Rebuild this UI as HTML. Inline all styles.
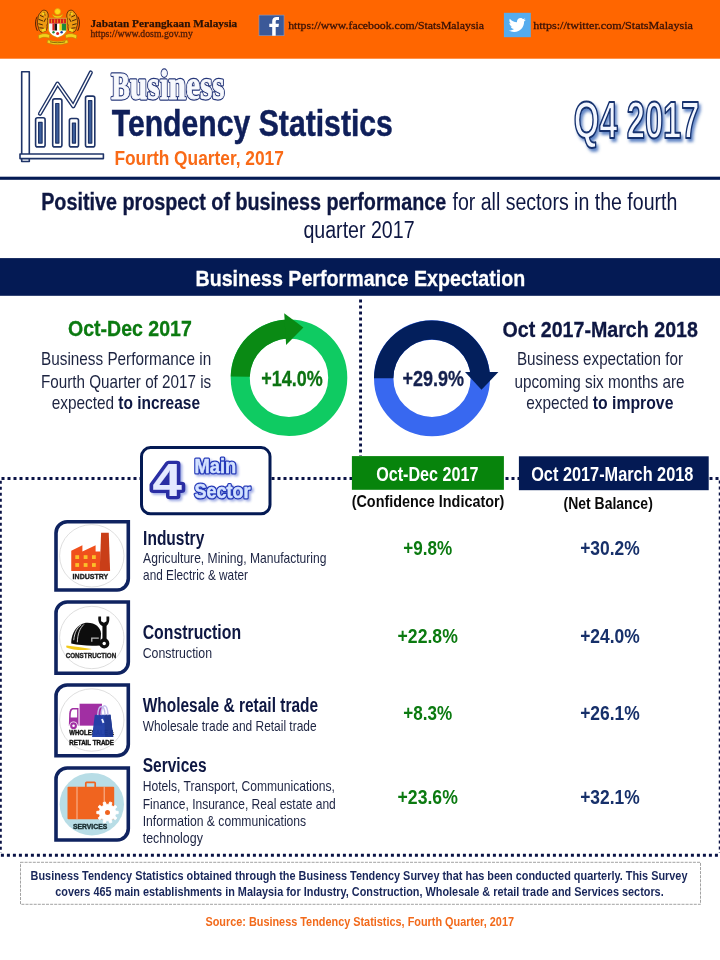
<!DOCTYPE html>
<html lang="en"><head><meta charset="utf-8"><title>Business Tendency Statistics Q4 2017</title>
<style>
html,body{margin:0;padding:0;background:#fff;}
body{width:720px;height:960px;overflow:hidden;font-family:"Liberation Sans",Arial,sans-serif;}
svg{display:block;}
text{white-space:pre;}
</style></head><body>
<svg width="720" height="960" viewBox="0 0 720 960">
<rect width="720" height="960" fill="#fff"/>
<rect x="0" y="0" width="720" height="58.7" fill="#ff6600"/>
<g id="crest">
<!-- tigers -->
<g fill="#ee9a12" stroke="#4a2406" stroke-width=".8" stroke-linejoin="round">
<path d="M46.800 11.200 c-2.200-1.700-5-1.200-6 1 c-1.800 1.500-3 4-2.800 6.800 c-1 2.500-.8 5.800 .4 8.200 c.2 2.300 1.200 4.300 3 5 l4.300-1.300 c1.300-1.600 1.600-3.800 1.200-5.800 c1-1.800 1.300-4 .6-6 c1.200-2.400 1-5.600-.7-7.900 z"/>
<path d="M68.200 11.200 c2.200-1.700 5-1.200 6 1 c1.800 1.500 3 4 2.800 6.800 c1 2.500 .8 5.800-.4 8.200 c-.2 2.300-1.200 4.300-3 5 l-4.300-1.300 c-1.300-1.600-1.600-3.800-1.200-5.800 c-1-1.800-1.300-4-.6-6 c-1.200-2.400-1-5.600 .7-7.900 z"/>
</g>
<g stroke="#3a1c04" stroke-width=".9" fill="none" stroke-linecap="round">
<path d="M37 17 c-1.800 2.500-2.200 9 .2 13.500 M40.300 15.500 l3 1.300 M39 19.500 l3.600 1.300 M38.800 23.800 l3.600 1 M39.800 27.800 l3.500 .4 M44 12.500 l1 2.600 M45.600 18.800 l-1.500 2.800"/>
<path d="M78 17 c1.800 2.500 2.200 9-.2 13.500 M74.700 15.500 l-3 1.300 M76 19.500 l-3.600 1.300 M76.200 23.800 l-3.600 1 M75.200 27.800 l-3.500 .4 M71 12.500 l-1 2.600 M69.400 18.800 l1.500 2.800"/>
</g>
<g fill="#f6d824"><circle cx="43.400" cy="13.800" r="1.300"/><circle cx="71.600" cy="13.800" r="1.300"/><path d="M41.500 29.500 l4-1.300 l.5 2.600 l-3.600 1.400 z M73.500 29.500 l-4-1.300 l-.5 2.600 l3.600 1.400 z"/></g>
<!-- crescent + star -->
<path d="M52.300 13.800 a5.400 5.400 0 0 0 10.600 0 a6.200 4.600 0 0 1 -10.600 0 z" fill="#f6cf12" stroke="#c98a08" stroke-width=".5"/>
<circle cx="57.600" cy="11.600" r="3" fill="#ffd914" stroke="#e0a010" stroke-width=".7"/>
<!-- shield -->
<path d="M48.600 18.200 h18 v11 c0 4-4.500 6.800-9 8.200 c-4.500-1.400-9-4.200-9-8.200 z" fill="#fff" stroke="#d8a512" stroke-width="1.100"/>
<path d="M49.200 18.700 h16.800 v5 h-16.800 z" fill="#d8201c"/>
<g stroke="#f2c81a" stroke-width=".7"><path d="M51.500 19.300 v3.600 M54.700 19.300 v3.600 M57.600 19.300 v3.600 M60.500 19.300 v3.600 M63.600 19.300 v3.600"/></g>
<rect x="49.200" y="23.700" width="3.200" height="7" fill="#f4f4f4"/>
<rect x="52.400" y="23.700" width="2.200" height="7" fill="#d8201c"/>
<rect x="54.600" y="23.700" width="2.600" height="7" fill="#141414"/>
<rect x="57.200" y="23.700" width="2.200" height="7" fill="#fff"/>
<rect x="59.400" y="23.700" width="2.400" height="7" fill="#f5d90f"/>
<rect x="61.800" y="23.700" width="4.200" height="7" fill="#1d8a3a"/>
<path d="M49.300 30.700 h16.600 c-.8 3-4.300 5.200-8.300 6.500 c-4-1.300-7.500-3.500-8.300-6.500 z" fill="#fff"/>
<circle cx="53.500" cy="32.300" r="1.200" fill="#1d8a3a"/><circle cx="57.600" cy="33.400" r="1.500" fill="#d8201c"/><circle cx="61.600" cy="32.300" r="1.200" fill="#1a3f9a"/>
<!-- ribbons -->
<g fill="#f3d21a" stroke="#b88608" stroke-width=".6">
<path d="M38.300 35.500 c3-2.200 8-2.500 11.500-.6 l-.6 3.300 c-3.500-1.500-7.500-1.200-10.200 .8 z"/>
<path d="M76.900 35.500 c-3-2.200-8-2.500-11.500-.6 l.6 3.300 c3.500-1.500 7.500-1.200 10.200 .8 z"/>
<path d="M47.800 39.800 c6 2.200 13.500 2.200 19.600 0 l.8 3 c-6.500 2.400-14.700 2.400-21.200 0 z"/>
</g>
<path d="M50 41.800 c5 1.300 10.200 1.300 15.200 0" stroke="#5a3a06" stroke-width=".7" fill="none"/>
</g>

<text x="90.4" y="26.6" textLength="146.8" lengthAdjust="spacingAndGlyphs" font-family='"Liberation Serif", "Times New Roman", serif' font-size="11.4" font-weight="bold" fill="#2a1206" stroke="#2a1206" stroke-width=".25">Jabatan Perangkaan Malaysia</text>
<text x="90.4" y="37.1" textLength="102.4" lengthAdjust="spacingAndGlyphs" font-family='"Liberation Serif", "Times New Roman", serif' font-size="10.6" font-weight="normal" fill="#4a1a08" stroke="#4a1a08" stroke-width=".3">https://www.dosm.gov.my</text>
<rect x="259" y="15.1" width="25" height="20.6" fill="#3b5998" stroke="#8a9cc4" stroke-width=".6"/>
<path d="M272.2 35.7 v-8.6 h-2.9 v-3.3 h2.9 v-2.5 c0-2.9 1.8-4.4 4.300-4.400 c1.200 0 2.200 .1 2.500 .15 v2.900 h-1.700 c-1.350 0-1.600 .65-1.600 1.600 v2.250 h3.250 l-.45 3.300 h-2.800 v8.600 z" fill="#fff"/>
<text x="288.2" y="29.4" textLength="195.8" lengthAdjust="spacingAndGlyphs" font-family='"Liberation Serif", "Times New Roman", serif' font-size="11.2" font-weight="normal" fill="#3a1206" stroke="#3a1206" stroke-width=".3">https://www.facebook.com/StatsMalaysia</text>
<rect x="503.9" y="12.8" width="26.9" height="24.4" fill="#55acee"/>
<g transform="translate(508.2,16.2) scale(0.745)"><path d="M23.6 4.6c-.8.4-1.7.6-2.7.8 1-.6 1.700-1.500 2-2.600-.9.500-1.900.900-3 1.100C19.100 3 17.900 2.400 16.500 2.400c-2.600 0-4.700 2.100-4.700 4.700 0 .4 0 .7.100 1.100C8 8 4.500 6.100 2.200 3.300c-.4.700-.6 1.500-.6 2.400 0 1.600.8 3.100 2.100 3.900-.8 0-1.500-.2-2.100-.6v.1c0 2.300 1.600 4.200 3.800 4.600-.4.100-.8.200-1.200.2-.3 0-.6 0-.9-.1.600 1.900 2.300 3.200 4.400 3.300-1.600 1.300-3.600 2-5.800 2-.4 0-.8 0-1.100-.1 2.100 1.300 4.500 2.100 7.200 2.100 8.600 0 13.300-7.100 13.300-13.300v-.6c.9-.7 1.700-1.500 2.300-2.500z" fill="#fff"/></g>
<text x="533.2" y="29.4" textLength="159.8" lengthAdjust="spacingAndGlyphs" font-family='"Liberation Serif", "Times New Roman", serif' font-size="11.2" font-weight="normal" fill="#3a1206" stroke="#3a1206" stroke-width=".3">https://twitter.com/StatsMalaysia</text>
<g fill="#fff" stroke="#1f3468" stroke-width="1.6" stroke-linejoin="round">
<rect x="21.7" y="71.7" width="7.6" height="89.8"/>
<rect x="20" y="154" width="83.4" height="4.6"/>
<rect x="35.6" y="117.7" width="9.5" height="29.2" rx="2"/>
<rect x="38.6" y="122.3" width="3.5" height="20.8" fill="#3d5f9c" stroke-width="1.2"/>
<rect x="52.7" y="98.9" width="9.2" height="48.0" rx="2"/>
<rect x="55.7" y="103.5" width="3.2" height="39.6" fill="#3d5f9c" stroke-width="1.2"/>
<rect x="69.4" y="118.5" width="9.1" height="28.4" rx="2"/>
<rect x="72.4" y="123.1" width="3.1" height="20.0" fill="#3d5f9c" stroke-width="1.2"/>
<rect x="85.5" y="96.1" width="9.3" height="50.8" rx="2"/>
<rect x="88.5" y="100.7" width="3.3" height="42.4" fill="#3d5f9c" stroke-width="1.2"/>
</g>
<polyline points="40,113.7 57.5,83.6 73.3,106.2 90.8,72.5" fill="none" stroke="#1f3468" stroke-width="4.2" stroke-linecap="round" stroke-linejoin="round"/>
<polyline points="40,113.7 57.5,83.6 73.3,106.2 90.8,72.5" fill="none" stroke="#fff" stroke-width="1.5" stroke-linecap="round" stroke-linejoin="round"/>
<text x="111.2" y="98.8" textLength="113.4" lengthAdjust="spacingAndGlyphs" font-family='"Liberation Serif", "Times New Roman", serif' font-size="37.5" font-weight="bold" fill="#26377a" stroke="#26377a" stroke-width="3.3" stroke-linejoin="round" aria-hidden="true">B<tspan font-size="42.5">usiness</tspan></text>
<text x="111.2" y="98.8" textLength="113.4" lengthAdjust="spacingAndGlyphs" font-family='"Liberation Serif", "Times New Roman", serif' font-size="37.5" font-weight="bold" fill="#f7f9fd" stroke="#f7f9fd" stroke-width="0.9" stroke-linejoin="round">B<tspan font-size="42.5">usiness</tspan></text>
<text x="111.7" y="135.8" textLength="281.2" lengthAdjust="spacingAndGlyphs" font-family='"Liberation Sans", Arial, sans-serif' font-size="37" font-weight="bold" fill="#0f1f5a"  stroke="#0f1f5a" stroke-width="0.48">Tendency Statistics</text>
<text x="114.4" y="164.9" textLength="169.5" lengthAdjust="spacingAndGlyphs" font-family='"Liberation Sans", Arial, sans-serif' font-size="20" font-weight="bold" fill="#f96a16" >Fourth Quarter, 2017</text>
<defs><filter id="sh" x="-10%" y="-10%" width="130%" height="140%"><feGaussianBlur in="SourceAlpha" stdDeviation="1.6" result="b"/><feOffset in="b" dx="2" dy="2.5" result="o"/><feFlood flood-color="#2f5fb3" flood-opacity=".75"/><feComposite in2="o" operator="in"/><feMerge><feMergeNode/><feMergeNode in="SourceGraphic"/></feMerge></filter></defs>
<text x="573.8" y="137.7" textLength="125.8" lengthAdjust="spacingAndGlyphs" font-family='"Liberation Sans", Arial, sans-serif' font-size="51" font-weight="bold" fill="#f3f7ff" stroke="#15306e" stroke-width="2" stroke-linejoin="round" filter="url(#sh)">Q4 2017</text>
<rect x="0" y="176.7" width="720" height="3.1" fill="#041a54"/>
<text x="41.2" y="209.6" textLength="405" lengthAdjust="spacingAndGlyphs" font-family='"Liberation Sans", Arial, sans-serif' font-size="23" font-weight="bold" fill="#0e1742"  stroke="#0e1742" stroke-width="0.30">Positive prospect of business performance</text>
<text x="452.5" y="209.6" textLength="224.8" lengthAdjust="spacingAndGlyphs" font-family='"Liberation Sans", Arial, sans-serif' font-size="23" font-weight="normal" fill="#0e1742" >for all sectors in the fourth</text>
<text x="303.4" y="237.6" textLength="111.2" lengthAdjust="spacingAndGlyphs" font-family='"Liberation Sans", Arial, sans-serif' font-size="23" font-weight="normal" fill="#0e1742" >quarter 2017</text>
<rect x="0" y="258.1" width="720" height="37.7" fill="#041a54"/>
<text x="195.5" y="285.8" textLength="329.8" lengthAdjust="spacingAndGlyphs" font-family='"Liberation Sans", Arial, sans-serif' font-size="22.5" font-weight="bold" fill="#fff"  stroke="#fff" stroke-width="0.29">Business Performance Expectation</text>
<path d="M360.55 299.6 V456" stroke="#0a1346" stroke-width="2.9" stroke-dasharray="3 3" fill="none"/>
<path d="M1.5 478.5 H720" stroke="#0a1346" stroke-width="2.9" stroke-dasharray="3 3" fill="none"/>
<path d="M0.35 480.8 V853" stroke="#0a1346" stroke-width="2.9" stroke-dasharray="3 3" fill="none"/>
<path d="M720.2 480.5 V853" stroke="#0a1346" stroke-width="2.9" stroke-dasharray="3 3" fill="none"/>
<path d="M0.9 855.25 H720" stroke="#0a1346" stroke-width="2.9" stroke-dasharray="3 3" fill="none"/>
<text x="68.0" y="335.9" textLength="123.8" lengthAdjust="spacingAndGlyphs" font-family='"Liberation Sans", Arial, sans-serif' font-size="22.5" font-weight="bold" fill="#0b7a10"  stroke="#0b7a10" stroke-width="0.29">Oct-Dec 2017</text>
<text x="41.0" y="365.1" textLength="170.2" lengthAdjust="spacingAndGlyphs" font-family='"Liberation Sans", Arial, sans-serif' font-size="19" font-weight="normal" fill="#1c2340" >Business Performance in</text>
<text x="41.0" y="387.7" textLength="170.2" lengthAdjust="spacingAndGlyphs" font-family='"Liberation Sans", Arial, sans-serif' font-size="19" font-weight="normal" fill="#1c2340" >Fourth Quarter of 2017 is</text>
<text x="51.7" y="409.1" textLength="62.5" lengthAdjust="spacingAndGlyphs" font-family='"Liberation Sans", Arial, sans-serif' font-size="19" font-weight="normal" fill="#1c2340" >expected</text>
<text x="118.3" y="409.1" textLength="81.7" lengthAdjust="spacingAndGlyphs" font-family='"Liberation Sans", Arial, sans-serif' font-size="19" font-weight="bold" fill="#0e1742" >to increase</text>
<text x="502.6" y="336.5" textLength="195.3" lengthAdjust="spacingAndGlyphs" font-family='"Liberation Sans", Arial, sans-serif' font-size="22.4" font-weight="bold" fill="#0e1742"  stroke="#0e1742" stroke-width="0.29">Oct 2017-March 2018</text>
<text x="516.9" y="365.0" textLength="166.2" lengthAdjust="spacingAndGlyphs" font-family='"Liberation Sans", Arial, sans-serif' font-size="19" font-weight="normal" fill="#1c2340" >Business expectation for</text>
<text x="514.4" y="387.7" textLength="170.2" lengthAdjust="spacingAndGlyphs" font-family='"Liberation Sans", Arial, sans-serif' font-size="19" font-weight="normal" fill="#1c2340" >upcoming six months are</text>
<text x="526.2" y="409.4" textLength="62.5" lengthAdjust="spacingAndGlyphs" font-family='"Liberation Sans", Arial, sans-serif' font-size="19" font-weight="normal" fill="#1c2340" >expected</text>
<text x="592.8" y="409.4" textLength="80.6" lengthAdjust="spacingAndGlyphs" font-family='"Liberation Sans", Arial, sans-serif' font-size="19" font-weight="bold" fill="#0e1742" >to improve</text>
<circle cx="289" cy="377.8" r="48.75" fill="none" stroke="#0fcb62" stroke-width="19.099999999999994"/>
<path d="M230.72 376.38 A58.3 58.3 0 0 1 286.97 319.54 L287.63 338.62 A39.2 39.2 0 0 0 249.81 376.84 Z" fill="#0a8a14"/>
<path d="M284.2 313.2 L303.4 327.4 L286.1 345.1 Z" fill="#0a8a14"/>
<text x="261.2" y="385.8" textLength="61.5" lengthAdjust="spacingAndGlyphs" font-family='"Liberation Sans", Arial, sans-serif' font-size="22" font-weight="bold" fill="#0c7312"  stroke="#0c7312" stroke-width="0.29">+14.0%</text>
<circle cx="432" cy="378.3" r="48.3" fill="none" stroke="#3868f0" stroke-width="19.4"/>
<path d="M374.00 378.30 A58 58 0 0 1 489.96 376.28 L470.58 376.95 A38.6 38.6 0 0 0 393.40 378.30 Z" fill="#031f5c"/>
<path d="M465 372 L498.4 372 L481.5 389.8 Z" fill="#031f5c"/>
<text x="402.4" y="385.8" textLength="61.6" lengthAdjust="spacingAndGlyphs" font-family='"Liberation Sans", Arial, sans-serif' font-size="22" font-weight="bold" fill="#14204e"  stroke="#14204e" stroke-width="0.29">+29.9%</text>
<rect x="141.5" y="447.6" width="128.5" height="66.2" rx="9" fill="#fff" stroke="#041a54" stroke-width="3"/>
<defs><filter id="sh2" x="-10%" y="-10%" width="130%" height="140%"><feGaussianBlur in="SourceAlpha" stdDeviation="1" result="b"/><feOffset in="b" dx="1.5" dy="2" result="o"/><feFlood flood-color="#3b55c8" flood-opacity=".45"/><feComposite in2="o" operator="in"/><feMerge><feMergeNode/><feMergeNode in="SourceGraphic"/></feMerge></filter></defs>
<g filter="url(#sh2)"><text x="152.6" y="495.6" textLength="29.3" lengthAdjust="spacingAndGlyphs" font-family='"Liberation Sans", Arial, sans-serif' font-size="46" font-weight="bold" fill="#2a2ea4" stroke="#2a2ea4" stroke-width="6.6" stroke-linejoin="round" aria-hidden="true">4</text>
<text x="152.6" y="495.6" textLength="29.3" lengthAdjust="spacingAndGlyphs" font-family='"Liberation Sans", Arial, sans-serif' font-size="46" font-weight="bold" fill="#e4e9ff" stroke="#e4e9ff" stroke-width="0.2" stroke-linejoin="round">4</text></g>
<g filter="url(#sh2)"><text x="194.6" y="473.3" textLength="41.6" lengthAdjust="spacingAndGlyphs" font-family='"Liberation Sans", Arial, sans-serif' font-size="19.3" font-weight="bold" fill="#2438b8" stroke="#2438b8" stroke-width="3.2" stroke-linejoin="round" aria-hidden="true">Main</text>
<text x="194.6" y="473.3" textLength="41.6" lengthAdjust="spacingAndGlyphs" font-family='"Liberation Sans", Arial, sans-serif' font-size="19.3" font-weight="bold" fill="#d3e2ff" stroke="#d3e2ff" stroke-width="0.5" stroke-linejoin="round">Main</text></g>
<g filter="url(#sh2)"><text x="194.6" y="498" textLength="56" lengthAdjust="spacingAndGlyphs" font-family='"Liberation Sans", Arial, sans-serif' font-size="19.3" font-weight="bold" fill="#2438b8" stroke="#2438b8" stroke-width="3.2" stroke-linejoin="round" aria-hidden="true">Sector</text>
<text x="194.6" y="498" textLength="56" lengthAdjust="spacingAndGlyphs" font-family='"Liberation Sans", Arial, sans-serif' font-size="19.3" font-weight="bold" fill="#d3e2ff" stroke="#d3e2ff" stroke-width="0.5" stroke-linejoin="round">Sector</text></g>
<rect x="351.9" y="456.1" width="152" height="33.7" fill="#07840c"/>
<text x="376.2" y="481.1" textLength="102.2" lengthAdjust="spacingAndGlyphs" font-family='"Liberation Sans", Arial, sans-serif' font-size="19.5" font-weight="bold" fill="#fff" >Oct-Dec 2017</text>
<text x="351.7" y="507.4" textLength="152.7" lengthAdjust="spacingAndGlyphs" font-family='"Liberation Sans", Arial, sans-serif' font-size="16.3" font-weight="bold" fill="#0a0a0a" >(Confidence Indicator)</text>
<rect x="518.9" y="456.3" width="189.8" height="33.9" fill="#041a54"/>
<text x="531.2" y="481" textLength="162.2" lengthAdjust="spacingAndGlyphs" font-family='"Liberation Sans", Arial, sans-serif' font-size="19.5" font-weight="bold" fill="#fff" >Oct 2017-March 2018</text>
<text x="563.6" y="509.2" textLength="89.2" lengthAdjust="spacingAndGlyphs" font-family='"Liberation Sans", Arial, sans-serif' font-size="16.3" font-weight="bold" fill="#0a0a0a" >(Net Balance)</text>
<path d="M67.2 521.75 H128.3 V578.8499999999999 A11.2 11.2 0 0 1 117.10000000000001 590.05 H56 V532.95 A11.2 11.2 0 0 1 67.2 521.75 Z" fill="#fff" stroke="#0f2360" stroke-width="3.6"/>
<path d="M67.2 602.05 H128.3 V662.05 A11.2 11.2 0 0 1 117.10000000000001 673.25 H56 V613.25 A11.2 11.2 0 0 1 67.2 602.05 Z" fill="#fff" stroke="#0f2360" stroke-width="3.6"/>
<path d="M67.2 685.05 H128.3 V744.55 A11.2 11.2 0 0 1 117.10000000000001 755.75 H56 V696.25 A11.2 11.2 0 0 1 67.2 685.05 Z" fill="#fff" stroke="#0f2360" stroke-width="3.6"/>
<path d="M67.2 768.05 H128.3 V828.75 A11.2 11.2 0 0 1 117.10000000000001 839.95 H56 V779.25 A11.2 11.2 0 0 1 67.2 768.05 Z" fill="#fff" stroke="#0f2360" stroke-width="3.6"/>
<ellipse cx="91.8" cy="555.8" rx="32.2" ry="31.2" fill="#fff" stroke="#d6d6d6" stroke-width=".8"/>
<path d="M71.250 571 V550.800 L82.400 545.300 V551.500 L95.600 545.300 V551.500 H100.500 V571 Z" fill="#f0501c"/>
<path d="M101.100 532.800 H108.750 L110.100 571 H99.700 Z" fill="#c93e18"/>
<rect x="75.3" y="555.2" width="3.8" height="3.8" fill="#fbc02a"/>
<rect x="75.3" y="563.1" width="3.8" height="3.8" fill="#fbc02a"/>
<rect x="83.69999999999999" y="555.2" width="3.8" height="3.8" fill="#fbc02a"/>
<rect x="83.69999999999999" y="563.1" width="3.8" height="3.8" fill="#fbc02a"/>
<rect x="92.0" y="555.2" width="3.8" height="3.8" fill="#fbc02a"/>
<rect x="92.0" y="563.1" width="3.8" height="3.8" fill="#fbc02a"/>
<text x="72.6" y="578.7" textLength="35.7" stroke="#1c1c1c" stroke-width=".35" lengthAdjust="spacingAndGlyphs" font-family='"Liberation Sans", Arial, sans-serif' font-size="7.6" font-weight="bold" fill="#1c1c1c">INDUSTRY</text>
<ellipse cx="91.8" cy="637.5" rx="32.2" ry="31.2" fill="#fff" stroke="#d6d6d6" stroke-width=".8"/>
<path d="M66.50 645.38 C73.54 646.10 82.56 647.45 91.77 648.99 C87.08 650.79 72.64 650.61 66.14 647.18 Z" fill="#f2c91a"/>
<path d="M71.28 643.57 C70.83 632.56 78.05 622.64 87.53 622.64 C95.20 622.64 100.61 627.15 101.06 633.47 L100.16 645.38 C89.78 646.10 79.86 645.38 71.28 643.57 Z" fill="#0d0d0d"/>
<path d="M73.72 640.23 C74.44 632.56 77.15 627.60 81.21 624.89 M77.33 642.31 C77.60 633.92 79.86 628.05 83.92 624.44" stroke="#fff" stroke-width=".8" fill="none"/>
<path d="M91.77 641.77 V638.16 H98.81" stroke="#b9b9b9" stroke-width="1.3" fill="none"/>
<path d="M102.42 623.54 V639.78 H106.57 V623.54 Z" fill="#0d0d0d"/>
<path d="M98.36 616.50 C97.73 621.73 99.71 626.06 104.40 626.43 C108.29 626.06 109.82 621.73 109.19 616.50 L106.48 616.50 L106.48 621.28 L103.95 622.64 L101.06 621.28 L101.06 616.50 Z" fill="#0d0d0d"/>
<circle cx="104.22" cy="643.39" r="5.1" fill="#0d0d0d"/><circle cx="104.22" cy="643.49" r="1.7" fill="#fff"/>
<text x="65.7" y="657.9" textLength="50.5" stroke="#1c1c1c" stroke-width=".35" lengthAdjust="spacingAndGlyphs" font-family='"Liberation Sans", Arial, sans-serif' font-size="7" font-weight="bold" fill="#1c1c1c">CONSTRUCTION</text>
<ellipse cx="91.8" cy="720" rx="32.2" ry="31.2" fill="#fff" stroke="#d6d6d6" stroke-width=".8"/>
<rect x="79.58" y="703.72" width="22.38" height="21.93" fill="#a12fa3"/>
<path d="M78.50 708.05 H72.64 C70.65 708.05 69.48 710.31 69.21 713.47 L68.84 725.65 H78.50 Z" fill="#a12fa3"/>
<path d="M77.15 709.49 H72.91 C71.55 709.68 71.01 711.66 70.83 713.65 L70.65 717.53 H77.15 Z" fill="#fff"/>
<circle cx="73.54" cy="725.74" r="4.3" fill="#fff"/><circle cx="73.54" cy="725.74" r="3.4" fill="#a12fa3"/><circle cx="73.54" cy="725.74" r="1.3" fill="#fff"/>
<text x="69.3" y="734.7" textLength="44.6" lengthAdjust="spacingAndGlyphs" font-family='"Liberation Sans", Arial, sans-serif' font-size="6.6" font-weight="bold" fill="#111" stroke="#111" stroke-width=".4">WHOLESALE &amp;</text>
<text x="69.3" y="744.6" textLength="44.6" lengthAdjust="spacingAndGlyphs" font-family='"Liberation Sans", Arial, sans-serif' font-size="6.6" font-weight="bold" fill="#111" stroke="#111" stroke-width=".4">RETAIL TRADE</text>
<g opacity=".97"><path d="M94.75 714.82 H110.54 L113.25 736.93 H92.04 Z" fill="#2240a8"/><path d="M104.22 714.82 H110.54 L113.25 736.93 H105.13 Z" fill="#1b3590"/></g>
<path d="M97.73 715.09 C98.36 703.54 104.40 703.54 105.13 715.09 M101.06 715.09 C101.70 702.64 107.38 702.64 108.01 715.09" fill="none" stroke="#c3bdec" stroke-width="1.400"/>
<path d="M101.06 719.33 L102.87 718.70 L104.40 722.49 L102.60 723.21 Z" fill="#e8f0ff"/>
<ellipse cx="91.8" cy="804.2" rx="32.2" ry="31.2" fill="#b8dde6"/>
<rect x="85.800" y="782.400" width="9.400" height="6" rx=".8" fill="none" stroke="#f0641f" stroke-width="1.700"/>
<rect x="67.500" y="786.700" width="46.700" height="32.500" rx="1" fill="#f0641f"/>
<path d="M77 786.700 V819.200 M104.200 786.700 V819.200" stroke="#fbd3bd" stroke-width=".8"/>
<polygon points="115.57,811.06 118.24,811.35 118.24,813.65 115.57,813.94 114.88,816.08 116.86,817.88 115.51,819.74 113.19,818.41 111.36,819.73 111.91,822.36 109.72,823.07 108.63,820.62 106.37,820.62 105.28,823.07 103.09,822.36 103.64,819.73 101.81,818.41 99.49,819.74 98.14,817.88 100.12,816.08 99.43,813.94 96.76,813.65 96.76,811.35 99.43,811.06 100.12,808.92 98.14,807.12 99.49,805.26 101.81,806.59 103.64,805.27 103.09,802.64 105.28,801.93 106.37,804.38 108.63,804.38 109.72,801.93 111.91,802.64 111.36,805.27 113.19,806.59 115.51,805.26 116.86,807.12 114.88,808.92" fill="#fff" stroke="#fff" stroke-width=".8" stroke-linejoin="round"/>
<circle cx="107.5" cy="812.5" r="2.500" fill="#f0641f"/>
<text x="73" y="828.6" textLength="34.2" stroke="#15292c" stroke-width=".4" lengthAdjust="spacingAndGlyphs" font-family='"Liberation Sans", Arial, sans-serif' font-size="7.8" font-weight="bold" fill="#15292c">SERVICES</text>
<text x="143.1" y="544.9" textLength="61.2" lengthAdjust="spacingAndGlyphs" font-family='"Liberation Sans", Arial, sans-serif' font-size="19.5" font-weight="bold" fill="#0e1742" >Industry</text>
<text x="143.1" y="563.4" textLength="183.4" lengthAdjust="spacingAndGlyphs" font-family='"Liberation Sans", Arial, sans-serif' font-size="14.8" font-weight="normal" fill="#1c2342" >Agriculture, Mining, Manufacturing</text>
<text x="143.1" y="580.2" textLength="104.8" lengthAdjust="spacingAndGlyphs" font-family='"Liberation Sans", Arial, sans-serif' font-size="14.8" font-weight="normal" fill="#1c2342" >and Electric &amp; water</text>
<text x="142.7" y="638.9" textLength="98.4" lengthAdjust="spacingAndGlyphs" font-family='"Liberation Sans", Arial, sans-serif' font-size="19.5" font-weight="bold" fill="#0e1742" >Construction</text>
<text x="142.7" y="658.0" textLength="69.4" lengthAdjust="spacingAndGlyphs" font-family='"Liberation Sans", Arial, sans-serif' font-size="14.8" font-weight="normal" fill="#1c2342" >Construction</text>
<text x="142.7" y="712.0" textLength="175.4" lengthAdjust="spacingAndGlyphs" font-family='"Liberation Sans", Arial, sans-serif' font-size="19.5" font-weight="bold" fill="#0e1742" >Wholesale &amp; retail trade</text>
<text x="142.7" y="731.0" textLength="173.9" lengthAdjust="spacingAndGlyphs" font-family='"Liberation Sans", Arial, sans-serif' font-size="14.8" font-weight="normal" fill="#1c2342" >Wholesale trade and Retail trade</text>
<text x="142.7" y="771.9" textLength="63.9" lengthAdjust="spacingAndGlyphs" font-family='"Liberation Sans", Arial, sans-serif' font-size="19.5" font-weight="bold" fill="#0e1742" >Services</text>
<text x="142.7" y="791.2" textLength="192.2" lengthAdjust="spacingAndGlyphs" font-family='"Liberation Sans", Arial, sans-serif' font-size="14.8" font-weight="normal" fill="#1c2342" >Hotels, Transport, Communications,</text>
<text x="142.7" y="808.6" textLength="193.1" lengthAdjust="spacingAndGlyphs" font-family='"Liberation Sans", Arial, sans-serif' font-size="14.8" font-weight="normal" fill="#1c2342" >Finance, Insurance, Real estate and</text>
<text x="142.7" y="826.4" textLength="163.5" lengthAdjust="spacingAndGlyphs" font-family='"Liberation Sans", Arial, sans-serif' font-size="14.8" font-weight="normal" fill="#1c2342" >Information &amp; communications</text>
<text x="142.7" y="842.8" textLength="60.2" lengthAdjust="spacingAndGlyphs" font-family='"Liberation Sans", Arial, sans-serif' font-size="14.8" font-weight="normal" fill="#1c2342" >technology</text>
<text x="403.25" y="554.8" textLength="48.9" lengthAdjust="spacingAndGlyphs" font-family='"Liberation Sans", Arial, sans-serif' font-size="19.5" font-weight="bold" fill="#0b7a10" >+9.8%</text>
<text x="580.2" y="554.8" textLength="59.6" lengthAdjust="spacingAndGlyphs" font-family='"Liberation Sans", Arial, sans-serif' font-size="19.5" font-weight="bold" fill="#17306a" >+30.2%</text>
<text x="397.59999999999997" y="643.3" textLength="60.2" lengthAdjust="spacingAndGlyphs" font-family='"Liberation Sans", Arial, sans-serif' font-size="19.5" font-weight="bold" fill="#0b7a10" >+22.8%</text>
<text x="580.2" y="643.3" textLength="59.6" lengthAdjust="spacingAndGlyphs" font-family='"Liberation Sans", Arial, sans-serif' font-size="19.5" font-weight="bold" fill="#17306a" >+24.0%</text>
<text x="403.25" y="719.5" textLength="48.9" lengthAdjust="spacingAndGlyphs" font-family='"Liberation Sans", Arial, sans-serif' font-size="19.5" font-weight="bold" fill="#0b7a10" >+8.3%</text>
<text x="580.2" y="719.5" textLength="59.6" lengthAdjust="spacingAndGlyphs" font-family='"Liberation Sans", Arial, sans-serif' font-size="19.5" font-weight="bold" fill="#17306a" >+26.1%</text>
<text x="397.59999999999997" y="803.5" textLength="60.2" lengthAdjust="spacingAndGlyphs" font-family='"Liberation Sans", Arial, sans-serif' font-size="19.5" font-weight="bold" fill="#0b7a10" >+23.6%</text>
<text x="580.2" y="803.5" textLength="59.6" lengthAdjust="spacingAndGlyphs" font-family='"Liberation Sans", Arial, sans-serif' font-size="19.5" font-weight="bold" fill="#17306a" >+32.1%</text>
<rect x="20.5" y="862.3" width="680" height="42" fill="#fff" stroke="#999" stroke-width=".9" stroke-dasharray="3 1.1"/>
<text x="30.6" y="880.0" textLength="656.9" lengthAdjust="spacingAndGlyphs" font-family='"Liberation Sans", Arial, sans-serif' font-size="12.4" font-weight="bold" fill="#18265a" >Business Tendency Statistics obtained through the Business Tendency Survey that has been conducted quarterly. This Survey</text>
<text x="55.3" y="895.9" textLength="608.4" lengthAdjust="spacingAndGlyphs" font-family='"Liberation Sans", Arial, sans-serif' font-size="12.4" font-weight="bold" fill="#18265a" >covers 465 main establishments in Malaysia for Industry, Construction, Wholesale &amp; retail trade and Services sectors.</text>
<text x="205.4" y="925.7" textLength="308.6" lengthAdjust="spacingAndGlyphs" font-family='"Liberation Sans", Arial, sans-serif' font-size="12.6" font-weight="bold" fill="#f26a1b" >Source: Business Tendency Statistics, Fourth Quarter, 2017</text>
</svg>
</body></html>
